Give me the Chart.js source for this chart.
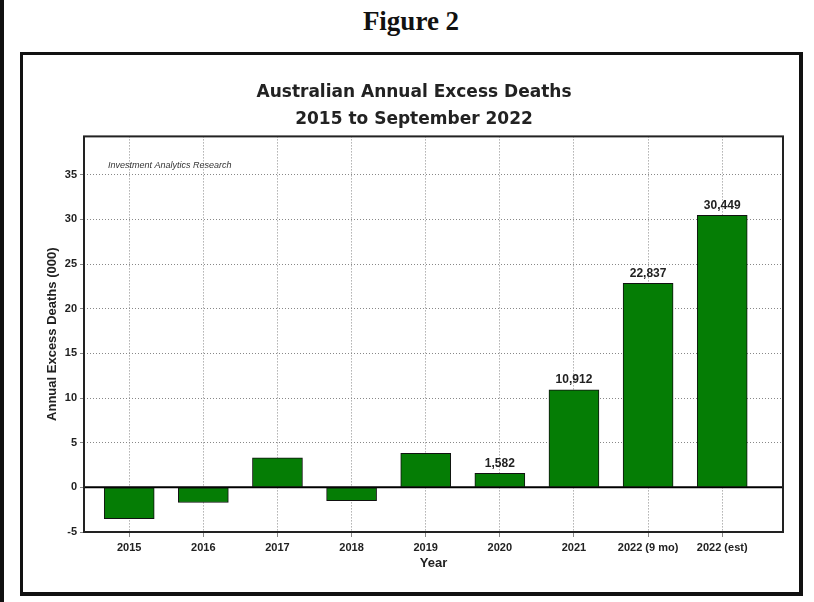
<!DOCTYPE html>
<html>
<head>
<meta charset="utf-8">
<script src="https://cdn.jsdelivr.net/npm/chart.js@4/dist/chart.umd.min.js"></script>
<style>
    body { margin: 0; background: #fff; width: 814px; height: 602px; position: relative; overflow: hidden; }
    #edge { position: absolute; left: 0; top: 0; width: 4px; height: 602px; background: #111; }
    #fig { position: absolute; left: 0; width: 822px; top: 6px; text-align: center;
           font: bold 27px "Liberation Serif", serif; color: #111; }
    #box { position: absolute; left: 20px; top: 52px; width: 776px; height: 537px;
           border: 3px solid #111; border-right-width: 4px; border-bottom-width: 4px; }
    #wrap { position: absolute; left: 0; top: 0; width: 776px; height: 537px; }
</style>
</head>
<body>
<div id="edge"></div>
<div id="fig">Figure 2</div>
<div id="box"><div id="wrap"><canvas id="excessChart"></canvas></div></div>
<script>
// Data (thousands of excess deaths)
const years = ['2015', '2016', '2017', '2018', '2019', '2020', '2021', '2022 (9 mo)', '2022 (est)'];
const excessDeaths = [-3.5, -1.7, 3.3, -1.5, 3.8, 1.582, 10.912, 22.837, 30.449];
const barLabels = [null, null, null, null, null, '1,582', '10,912', '22,837', '30,449'];
const yTicks = [-5, 0, 5, 10, 15, 20, 25, 30, 35];

// Frame, zero line, watermark and value labels
const decorations = {
    id: 'decorations',
    beforeDatasetsDraw(chart) {
        const { ctx, chartArea: a, scales } = chart;
        const y0 = scales.y.getPixelForValue(0);
        ctx.save();
        ctx.strokeStyle = '#000';
        ctx.lineWidth = 2;
        ctx.beginPath();
        ctx.moveTo(a.left, y0);
        ctx.lineTo(a.right, y0);
        ctx.stroke();
        ctx.restore();
    },
    afterDatasetsDraw(chart) {
        const { ctx, chartArea: a } = chart;
        ctx.save();
        ctx.strokeStyle = '#222';
        ctx.lineWidth = 2;
        ctx.strokeRect(a.left, a.top, a.right - a.left, a.bottom - a.top);

        ctx.font = 'italic 9px "Liberation Sans", Arial, sans-serif';
        ctx.fillStyle = '#333';
        ctx.textBaseline = 'middle';
        ctx.fillText('Investment Analytics Research', a.left + 24, a.top + 29);

        ctx.font = 'bold 12px "Liberation Sans", Arial, sans-serif';
        ctx.fillStyle = '#222';
        ctx.textAlign = 'center';
        ctx.textBaseline = 'bottom';
        chart.getDatasetMeta(0).data.forEach((bar, i) => {
            if (barLabels[i]) ctx.fillText(barLabels[i], bar.x, bar.y - 4);
        });
        ctx.restore();
    }
};

const tickFont = { family: '"Liberation Sans", Arial, sans-serif', size: 11, weight: 'bold' };

new Chart(document.getElementById('excessChart'), {
    type: 'bar',
    data: {
        datasets: [{
            data: excessDeaths.map((v, i) => ({ x: i, y: v })),
            backgroundColor: '#057d05',
            borderColor: '#111',
            borderWidth: 1,
            borderSkipped: false,
            barThickness: 50
        }]
    },
    options: {
        responsive: true,
        maintainAspectRatio: false,
        animation: false,
        layout: { padding: { left: 22, right: 16, top: 0, bottom: 21 } },
        plugins: {
            legend: { display: false },
            tooltip: { enabled: false },
            title: {
                display: true,
                text: ['Australian Annual Excess Deaths', '2015 to September 2022'],
                color: '#222',
                font: { family: '"DejaVu Sans", sans-serif', size: 17, weight: 'bold', lineHeight: 1.6 },
                padding: { top: 24, bottom: 3 }
            }
        },
        scales: {
            x: {
                type: 'linear',
                min: -0.61,
                max: 8.82,
                offset: false,
                afterBuildTicks: s => { s.ticks = years.map((c, i) => ({ value: i })); },
                afterFit: s => { s.height = 39; },
                ticks: {
                    callback: v => years[v],
                    color: '#222',
                    font: tickFont,
                    padding: 4,
                    autoSkip: false,
                    maxRotation: 0
                },
                grid: { offset: false, color: '#888', lineWidth: 1, drawTicks: true, tickLength: 5 },
                border: { display: false, dash: [1, 2] },
                title: {
                    display: true,
                    text: 'Year',
                    color: '#222',
                    font: { family: '"Liberation Sans", Arial, sans-serif', size: 13, weight: 'bold' },
                    padding: { top: 0, bottom: 0 }
                }
            },
            y: {
                min: -5,
                max: 39.3,
                afterBuildTicks: s => { s.ticks = yTicks.map(v => ({ value: v })); },
                afterFit: s => { s.width = 39; },
                ticks: { color: '#222', font: tickFont, padding: 3 },
                grid: { color: '#888', lineWidth: 1, tickLength: 4 },
                border: { display: false, dash: [1, 2] },
                title: {
                    display: true,
                    text: 'Annual Excess Deaths (000)',
                    color: '#222',
                    font: { family: '"Liberation Sans", Arial, sans-serif', size: 13, weight: 'bold' },
                    padding: { top: 0, bottom: 2 }
                }
            }
        }
    },
    plugins: [decorations]
});
</script>
</body>
</html>
